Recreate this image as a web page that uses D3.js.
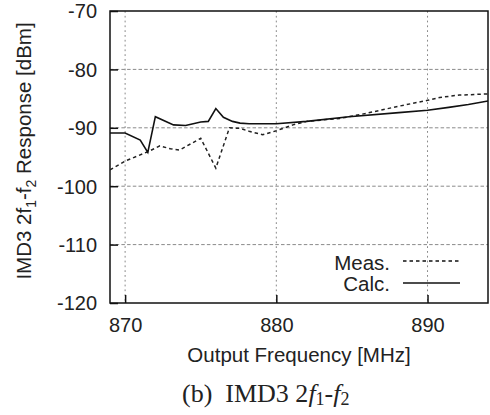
<!DOCTYPE html>
<html>
<head>
<meta charset="utf-8">
<script src="https://cdn.jsdelivr.net/npm/d3@7"></script>
<style>
  body { margin: 0; background: #fff; }
  svg { display: block; }
  .axis text { font-family: "Liberation Sans", Arial, sans-serif; font-size: 20px; fill: #222; }
  .lbl { font-family: "Liberation Sans", Arial, sans-serif; font-size: 20.5px; fill: #222; }
  .cap { font-family: "Liberation Serif", "Times New Roman", serif; font-size: 26px; fill: #222; }
</style>
</head>
<body>
<div id="chart"></div>
<script>
// measured curve (dashed)
var measFreq = [869.0, 870.0, 871.5, 872.3, 873.0, 873.6, 875.0, 876.0, 876.9, 877.6, 878.2, 879.1, 880.0, 881.1, 882.0, 884.2, 886.0, 888.1, 890.0, 890.8, 892.1, 894.0];
var measResp = [-97.2, -95.7, -94.1, -93.1, -93.6, -93.8, -91.8, -96.9, -90.0, -90.1, -90.6, -91.2, -90.5, -89.5, -88.9, -88.4, -87.5, -86.3, -85.3, -84.8, -84.4, -84.2];

// calculated curve (solid)
var calcFreq = [869.0, 870.0, 871.0, 871.5, 872.0, 873.2, 874.0, 875.0, 875.5, 876.0, 876.5, 877.1, 877.6, 878.2, 880.0, 882.0, 884.8, 888.1, 890.0, 891.4, 892.7, 894.0];
var calcResp = [-90.9, -90.9, -92.1, -94.2, -88.1, -89.5, -89.6, -89.0, -88.9, -86.7, -88.2, -88.9, -89.2, -89.3, -89.3, -88.9, -88.1, -87.4, -87.0, -86.5, -86.0, -85.4];

var xTicks = [870, 880, 890];
var yTicks = [-70, -80, -90, -100, -110, -120];
var legendNames = ["Meas.", "Calc."];

var W = 490, H = 415;
var margin = { top: 11, right: 2, bottom: 112, left: 110 };
var width = W - margin.left - margin.right,
    height = H - margin.top - margin.bottom;

var svg = d3.select("#chart").append("svg")
    .attr("width", W)
    .attr("height", H);

var g = svg.append("g")
    .attr("transform", "translate(" + margin.left + "," + margin.top + ")");

var x = d3.scaleLinear().domain([869, 894]).range([0, width]);
var y = d3.scaleLinear().domain([-120, -70]).range([height, 0]);

// grid lines
g.selectAll(".hgrid")
    .data(yTicks.filter(function (d) { return d > -120 && d < -70; }))
    .enter().append("line")
    .attr("x1", 0).attr("x2", width)
    .attr("y1", function (d) { return y(d); })
    .attr("y2", function (d) { return y(d); })
    .attr("stroke", "#8a8a8a")
    .attr("stroke-width", 1)
    .attr("stroke-dasharray", "3.5,2.2");

g.selectAll(".vgrid")
    .data(xTicks)
    .enter().append("line")
    .attr("y1", 0).attr("y2", height)
    .attr("x1", function (d) { return x(d); })
    .attr("x2", function (d) { return x(d); })
    .attr("stroke", "#8a8a8a")
    .attr("stroke-width", 1)
    .attr("stroke-dasharray", "1.8,3");

// axes (ticks pointing inward)
var xAxis = d3.axisBottom(x).tickValues(xTicks).tickFormat(d3.format("d"))
    .tickSizeInner(-8).tickSizeOuter(0).tickPadding(15);
var yAxis = d3.axisLeft(y).tickValues(yTicks).tickFormat(d3.format("d"))
    .tickSizeInner(-8).tickSizeOuter(0).tickPadding(13);

var gx = g.append("g").attr("class", "axis")
    .attr("transform", "translate(0," + height + ")")
    .call(xAxis);
var gy = g.append("g").attr("class", "axis").call(yAxis);

gx.select(".domain").remove();
gy.select(".domain").remove();
g.selectAll(".axis .tick line").attr("stroke", "#111").attr("stroke-width", 1.5);
gy.selectAll(".tick text").attr("dy", "0.34em");
g.selectAll(".axis .tick text").text(function (d) { return d3.format("d")(d).replace("\u2212", "-"); });

// frame
g.append("rect")
    .attr("x", 0).attr("y", 0)
    .attr("width", width).attr("height", height)
    .attr("fill", "none")
    .attr("stroke", "#111")
    .attr("stroke-width", 1.5);

var line = d3.line()
    .x(function (d) { return x(d[0]); })
    .y(function (d) { return y(d[1]); });

var clip = g.append("clipPath").attr("id", "clip")
    .append("rect").attr("width", width).attr("height", height);

g.append("path")
    .datum(d3.zip(measFreq, measResp))
    .attr("clip-path", "url(#clip)")
    .attr("fill", "none")
    .attr("stroke", "#222")
    .attr("stroke-width", 1.5)
    .attr("stroke-dasharray", "3.5,3")
    .attr("d", line);

g.append("path")
    .datum(d3.zip(calcFreq, calcResp))
    .attr("clip-path", "url(#clip)")
    .attr("fill", "none")
    .attr("stroke", "#111")
    .attr("stroke-width", 1.6)
    .attr("d", line);

// legend
var legY = [261, 283];
var legDash = ["3.5,3", null];
legendNames.forEach(function (name, i) {
    svg.append("text").attr("class", "lbl")
        .attr("x", 390).attr("y", legY[i] + (i == 0 ? 9 : 8))
        .attr("text-anchor", "end")
        .text(name);
    svg.append("line")
        .attr("x1", 403).attr("x2", 460)
        .attr("y1", legY[i]).attr("y2", legY[i])
        .attr("stroke", "#111")
        .attr("stroke-width", 1.5)
        .attr("stroke-dasharray", legDash[i]);
});

// axis titles
svg.append("text").attr("class", "lbl")
    .attr("x", margin.left + width / 2).attr("y", 362)
    .attr("text-anchor", "middle")
    .text("Output Frequency [MHz]");

var yl = svg.append("text").attr("class", "lbl")
    .attr("transform", "translate(31,151) rotate(-90)")
    .attr("text-anchor", "middle");
yl.append("tspan").text("IMD3 2f");
yl.append("tspan").attr("dy", 5).style("font-size", "14px").text("1");
yl.append("tspan").attr("dy", -5).text("-f");
yl.append("tspan").attr("dy", 5).style("font-size", "14px").text("2");
yl.append("tspan").attr("dy", -5).text(" Response [dBm]");

// caption
var cap = svg.append("text").attr("class", "cap")
    .attr("x", 182).attr("y", 402)
    .attr("xml:space", "preserve");
cap.append("tspan").text("(b)  IMD3 2");
cap.append("tspan").style("font-style", "italic").text("f");
cap.append("tspan").attr("dy", 3).style("font-size", "18px").text("1");
cap.append("tspan").attr("dy", -3).text("-");
cap.append("tspan").style("font-style", "italic").text("f");
cap.append("tspan").attr("dy", 3).style("font-size", "18px").text("2");
</script>
</body>
</html>
